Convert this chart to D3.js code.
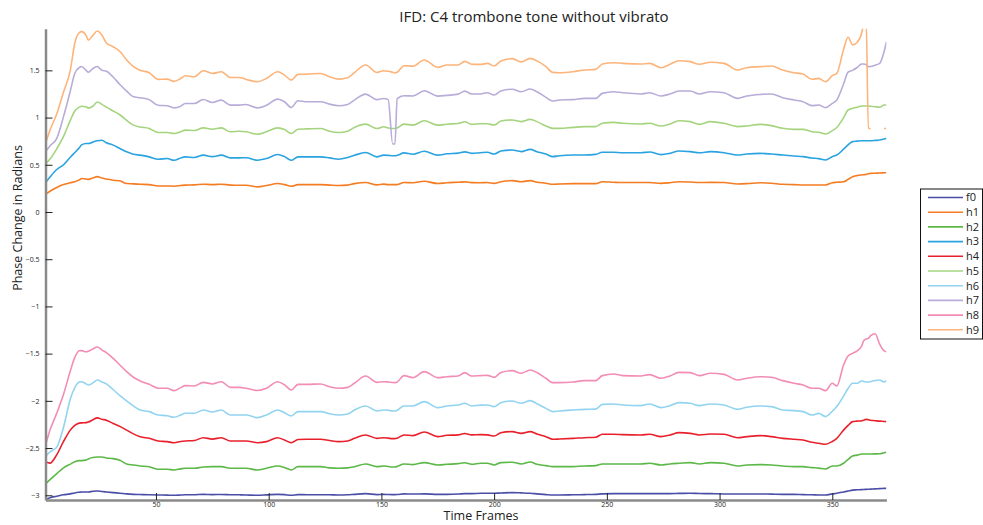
<!DOCTYPE html>
<html>
<head>
<meta charset="utf-8">
<script src="https://cdn.jsdelivr.net/npm/d3@7"></script>
<style>
  html, body { margin: 0; padding: 0; background: #fff; }
  svg { display: block; }
  text { font-family: "Open Sans", "Liberation Sans", sans-serif; fill: #222; }
</style>
</head>
<body>
<svg id="chart" width="983" height="525"></svg>
<script>
// Frame positions at which each harmonic's phase change is sampled
const frames = [1,3,6,9,12,14,16,17,19,20,22,24,26,28,31,34,37,40,43,47,51,55,58,61,63,67,71,75,79,83,87,90,95,99,104,107,110,113,117,123,127,131,135,138,143,148,151,153,155,156,157,160,164,169,175,179,184,187,
  190,194,197,200,203,208,212,216,219,223,226,229,235,240,245,248,253,257,265,269,274,278,282,287,291,296,302,308,312,318,323,328,333,337,341,344,347,350,352,355,357,359,361,363,364,365,366,367,369,371,373,374];

const f0 = [-3.045,-3.025,-3.01,-2.995,-2.985,-2.975,-2.968,-2.965,-2.965,-2.965,-2.958,-2.955,-2.96,-2.965,-2.972,-2.978,-2.985,-2.99,-2.992,-2.995,-2.997,-2.998,-3.0,-2.997,-2.995,-2.994,-2.99,-2.993,-2.992,-2.994,-2.995,-2.997,-3.0,-2.996,-2.99,-2.993,-3.0,-2.993,-2.994,-2.994,-2.995,-2.997,-2.995,-2.99,-2.983,-2.993,-2.99,-2.992,-2.993,-2.993,-2.992,-2.985,-2.987,-2.985,-2.99,-2.99,-2.987,-2.982,
  -2.982,-2.979,-2.979,-2.979,-2.976,-2.972,-2.975,-2.979,-2.985,-2.993,-2.997,-2.997,-2.995,-2.993,-2.99,-2.985,-2.983,-2.983,-2.983,-2.983,-2.983,-2.983,-2.98,-2.979,-2.981,-2.983,-2.986,-2.986,-2.986,-2.986,-2.988,-2.99,-2.99,-2.993,-2.995,-2.997,-2.997,-2.985,-2.979,-2.965,-2.955,-2.945,-2.942,-2.94,-2.938,-2.937,-2.936,-2.935,-2.932,-2.93,-2.927,-2.926];

const h1 = [0.19,0.22,0.26,0.29,0.31,0.32,0.34,0.355,0.35,0.345,0.36,0.375,0.36,0.35,0.336,0.33,0.301,0.298,0.294,0.29,0.276,0.276,0.273,0.28,0.285,0.287,0.294,0.29,0.294,0.285,0.283,0.283,0.266,0.28,0.301,0.29,0.273,0.29,0.29,0.29,0.285,0.28,0.285,0.30,0.312,0.287,0.295,0.29,0.29,0.29,0.29,0.312,0.31,0.326,0.301,0.31,0.315,0.319,
  0.311,0.31,0.312,0.303,0.32,0.332,0.321,0.332,0.315,0.305,0.293,0.297,0.30,0.30,0.30,0.321,0.315,0.312,0.312,0.312,0.303,0.31,0.321,0.317,0.312,0.314,0.312,0.297,0.30,0.31,0.305,0.293,0.29,0.286,0.286,0.286,0.286,0.31,0.315,0.32,0.345,0.374,0.385,0.392,0.395,0.398,0.405,0.409,0.41,0.413,0.415,0.416];

const h2 = [-2.88,-2.835,-2.77,-2.71,-2.67,-2.645,-2.633,-2.633,-2.628,-2.615,-2.60,-2.595,-2.595,-2.605,-2.612,-2.63,-2.668,-2.68,-2.69,-2.697,-2.725,-2.725,-2.732,-2.72,-2.714,-2.714,-2.70,-2.697,-2.697,-2.714,-2.714,-2.714,-2.732,-2.714,-2.69,-2.705,-2.732,-2.697,-2.697,-2.697,-2.71,-2.714,-2.71,-2.697,-2.668,-2.697,-2.69,-2.695,-2.70,-2.70,-2.695,-2.668,-2.675,-2.654,-2.679,-2.672,-2.665,-2.656,
  -2.672,-2.661,-2.661,-2.679,-2.654,-2.65,-2.668,-2.647,-2.672,-2.686,-2.697,-2.697,-2.697,-2.69,-2.686,-2.668,-2.668,-2.668,-2.668,-2.661,-2.679,-2.668,-2.661,-2.654,-2.668,-2.654,-2.661,-2.69,-2.679,-2.675,-2.679,-2.69,-2.697,-2.697,-2.707,-2.712,-2.721,-2.69,-2.69,-2.661,-2.62,-2.584,-2.575,-2.563,-2.563,-2.563,-2.563,-2.563,-2.562,-2.56,-2.55,-2.545];

const h3 = [0.31,0.37,0.45,0.50,0.58,0.63,0.68,0.71,0.725,0.725,0.74,0.755,0.76,0.733,0.708,0.672,0.637,0.611,0.602,0.584,0.559,0.566,0.548,0.572,0.584,0.577,0.602,0.586,0.602,0.573,0.573,0.575,0.548,0.566,0.609,0.587,0.548,0.584,0.584,0.584,0.573,0.559,0.577,0.60,0.63,0.584,0.602,0.60,0.596,0.596,0.60,0.626,0.612,0.644,0.602,0.616,0.623,0.637,
  0.621,0.628,0.632,0.614,0.646,0.656,0.639,0.663,0.639,0.614,0.586,0.596,0.603,0.603,0.61,0.632,0.632,0.628,0.628,0.635,0.607,0.621,0.646,0.639,0.628,0.639,0.628,0.603,0.614,0.621,0.614,0.603,0.593,0.586,0.572,0.565,0.551,0.586,0.603,0.665,0.71,0.745,0.75,0.755,0.755,0.755,0.755,0.755,0.758,0.762,0.772,0.78];

const h4 = [-2.645,-2.66,-2.57,-2.43,-2.31,-2.26,-2.236,-2.233,-2.231,-2.225,-2.20,-2.18,-2.195,-2.205,-2.24,-2.27,-2.31,-2.35,-2.38,-2.397,-2.425,-2.432,-2.443,-2.43,-2.425,-2.42,-2.39,-2.405,-2.39,-2.425,-2.425,-2.425,-2.443,-2.432,-2.39,-2.415,-2.443,-2.41,-2.407,-2.407,-2.42,-2.432,-2.425,-2.397,-2.361,-2.397,-2.39,-2.395,-2.40,-2.40,-2.395,-2.361,-2.368,-2.33,-2.379,-2.365,-2.36,-2.346,
  -2.36,-2.358,-2.36,-2.372,-2.337,-2.326,-2.344,-2.326,-2.351,-2.38,-2.407,-2.404,-2.397,-2.39,-2.386,-2.354,-2.354,-2.358,-2.361,-2.354,-2.379,-2.361,-2.337,-2.344,-2.361,-2.351,-2.354,-2.39,-2.379,-2.368,-2.379,-2.397,-2.407,-2.414,-2.439,-2.449,-2.46,-2.43,-2.397,-2.31,-2.26,-2.22,-2.215,-2.21,-2.205,-2.196,-2.2,-2.205,-2.21,-2.215,-2.218,-2.22];

const h5 = [0.51,0.56,0.67,0.80,0.97,1.07,1.11,1.12,1.115,1.10,1.12,1.165,1.14,1.11,1.07,1.03,0.97,0.92,0.90,0.885,0.842,0.842,0.831,0.85,0.867,0.863,0.891,0.877,0.891,0.849,0.855,0.849,0.824,0.849,0.891,0.874,0.831,0.877,0.88,0.884,0.856,0.842,0.856,0.895,0.93,0.884,0.902,0.89,0.884,0.884,0.89,0.93,0.92,0.966,0.92,0.93,0.937,0.955,
  0.928,0.935,0.935,0.921,0.963,0.974,0.957,0.981,0.957,0.91,0.886,0.886,0.896,0.904,0.904,0.939,0.949,0.94,0.932,0.939,0.91,0.932,0.967,0.957,0.928,0.957,0.939,0.904,0.91,0.928,0.915,0.886,0.875,0.875,0.85,0.845,0.826,0.861,0.895,1.0,1.08,1.098,1.11,1.122,1.122,1.122,1.122,1.12,1.115,1.11,1.133,1.133];

const h6 = [-2.59,-2.54,-2.49,-2.28,-1.98,-1.86,-1.80,-1.797,-1.82,-1.832,-1.81,-1.779,-1.80,-1.82,-1.88,-1.945,-2.00,-2.054,-2.097,-2.114,-2.15,-2.157,-2.174,-2.15,-2.132,-2.132,-2.097,-2.118,-2.097,-2.15,-2.15,-2.15,-2.178,-2.15,-2.097,-2.125,-2.16,-2.114,-2.114,-2.114,-2.137,-2.15,-2.14,-2.097,-2.054,-2.107,-2.097,-2.10,-2.107,-2.107,-2.10,-2.054,-2.054,-2.008,-2.072,-2.054,-2.044,-2.025,
  -2.054,-2.045,-2.044,-2.061,-2.019,-2.001,-2.026,-1.998,-2.03,-2.08,-2.114,-2.107,-2.097,-2.09,-2.088,-2.037,-2.033,-2.044,-2.051,-2.033,-2.072,-2.051,-2.019,-2.026,-2.051,-2.033,-2.044,-2.09,-2.068,-2.054,-2.061,-2.097,-2.104,-2.114,-2.15,-2.133,-2.167,-2.11,-2.061,-1.95,-1.87,-1.814,-1.814,-1.79,-1.795,-1.80,-1.80,-1.795,-1.785,-1.779,-1.80,-1.786];

const h7 = [0.64,0.70,0.78,1.01,1.28,1.47,1.53,1.54,1.50,1.48,1.52,1.54,1.50,1.49,1.43,1.35,1.28,1.22,1.21,1.19,1.13,1.125,1.103,1.12,1.149,1.149,1.192,1.16,1.185,1.132,1.132,1.138,1.103,1.13,1.195,1.168,1.107,1.178,1.167,1.167,1.142,1.125,1.139,1.185,1.248,1.19,1.202,1.19,0.72,0.72,1.20,1.231,1.228,1.284,1.227,1.235,1.248,1.28,
  1.25,1.25,1.263,1.239,1.281,1.30,1.274,1.302,1.274,1.214,1.175,1.186,1.19,1.203,1.203,1.256,1.274,1.263,1.25,1.263,1.228,1.25,1.281,1.281,1.25,1.274,1.263,1.203,1.228,1.245,1.25,1.21,1.186,1.168,1.126,1.133,1.105,1.15,1.186,1.355,1.48,1.50,1.53,1.567,1.567,1.56,1.539,1.54,1.555,1.574,1.70,1.80];

const h8 = [-2.47,-2.31,-2.13,-1.93,-1.685,-1.54,-1.47,-1.468,-1.48,-1.475,-1.45,-1.43,-1.46,-1.49,-1.55,-1.62,-1.69,-1.75,-1.79,-1.825,-1.867,-1.867,-1.892,-1.86,-1.839,-1.842,-1.804,-1.821,-1.797,-1.857,-1.857,-1.867,-1.89,-1.867,-1.797,-1.83,-1.885,-1.825,-1.825,-1.821,-1.85,-1.867,-1.857,-1.814,-1.737,-1.804,-1.797,-1.80,-1.805,-1.807,-1.80,-1.733,-1.754,-1.691,-1.754,-1.744,-1.737,-1.701,
  -1.737,-1.733,-1.73,-1.751,-1.701,-1.68,-1.708,-1.673,-1.70,-1.761,-1.807,-1.807,-1.80,-1.786,-1.786,-1.733,-1.715,-1.733,-1.737,-1.722,-1.761,-1.737,-1.698,-1.701,-1.733,-1.708,-1.72,-1.779,-1.761,-1.744,-1.75,-1.786,-1.814,-1.832,-1.867,-1.867,-1.892,-1.814,-1.842,-1.62,-1.525,-1.497,-1.47,-1.42,-1.36,-1.345,-1.338,-1.31,-1.29,-1.40,-1.47,-1.479];

// h9 runs past the top of the axis near the end, then wraps; missing frames are null
const h9 = [0.725,0.867,1.04,1.27,1.50,1.79,1.90,1.91,1.87,1.82,1.87,1.916,1.874,1.79,1.75,1.70,1.61,1.54,1.50,1.475,1.404,1.407,1.383,1.414,1.443,1.432,1.496,1.467,1.485,1.425,1.425,1.404,1.379,1.414,1.485,1.45,1.397,1.457,1.46,1.467,1.432,1.407,1.421,1.475,1.556,1.478,1.496,1.49,1.48,1.475,1.48,1.549,1.545,1.609,1.531,1.556,1.556,1.595,
  1.565,1.563,1.574,1.546,1.599,1.624,1.59,1.627,1.60,1.539,1.479,1.475,1.486,1.503,1.51,1.567,1.581,1.574,1.567,1.574,1.528,1.564,1.602,1.592,1.564,1.585,1.574,1.503,1.528,1.539,1.546,1.503,1.475,1.461,1.405,1.415,1.38,1.444,1.468,1.72,1.85,1.77,1.795,1.892,2.0,2.05,0.884,0.884,null,null,0.884,0.884];

const seriesNames = ["f0","h1","h2","h3","h4","h5","h6","h7","h8","h9"];
const seriesValues = [f0,h1,h2,h3,h4,h5,h6,h7,h8,h9];
const seriesColors = ["#4a4ea6","#f47c22","#5cb848","#2aa3e0","#e8202c","#a5d47e","#92d4f0","#b8acd8","#f28db5","#fdb47a"];

const xTicks = [50,100,150,200,250,300,350];
const yTicks = [-3,-2.5,-2,-1.5,-1,-0.5,0,0.5,1,1.5];

const titleText = "IFD: C4 trombone tone without vibrato";
const xLabel = "Time Frames";
const yLabel = "Phase Change in Radians";

const svg = d3.select("#chart");
const plot = { left: 45.5, right: 886.4, top: 28.8, bottom: 500 };

const x = d3.scaleLinear().domain([1, 374]).range([plot.left, plot.right]);
const y = d3.scaleLinear().domain([-3.05, 1.94]).range([plot.bottom, plot.top]);

svg.append("defs").append("clipPath").attr("id", "plotClip")
  .append("rect")
  .attr("x", plot.left).attr("y", plot.top)
  .attr("width", plot.right - plot.left).attr("height", plot.bottom - plot.top);

const line = d3.line()
  .defined(d => d[1] !== null)
  .x(d => x(d[0]))
  .y(d => y(d[1]))
  .curve(d3.curveMonotoneX);

const lines = svg.append("g").attr("clip-path", "url(#plotClip)");
seriesValues.forEach((vals, i) => {
  lines.append("path")
    .datum(frames.map((f, j) => [f, vals[j]]))
    .attr("fill", "none")
    .attr("stroke", seriesColors[i])
    .attr("stroke-width", 1.6)
    .attr("stroke-linejoin", "round")
    .attr("d", line);
});

// Axes: MATLAB-style, ticks pointing into the plot
const fmt = d3.format("");
const yAxis = svg.append("g")
  .attr("transform", `translate(${plot.left},0)`)
  .call(d3.axisLeft(y).tickValues(yTicks).tickSizeInner(-7).tickSizeOuter(0).tickPadding(6).tickFormat(fmt));
const xAxis = svg.append("g")
  .attr("transform", `translate(0,${plot.bottom})`)
  .call(d3.axisBottom(x).tickValues(xTicks).tickSizeInner(-7).tickSizeOuter(0).tickPadding(2).tickFormat(fmt));

[yAxis, xAxis].forEach(a => {
  a.select(".domain").attr("stroke", "#8a8a8a").attr("stroke-width", 2.5);
  a.selectAll(".tick line").attr("stroke", "#222").attr("stroke-width", 1);
  a.selectAll(".tick text").attr("font-size", 7).attr("fill", "#333")
    .style("font-family", "'Open Sans', 'Liberation Sans', sans-serif");
});

svg.append("text")
  .attr("x", 534).attr("y", 21.5)
  .attr("text-anchor", "middle")
  .attr("font-size", 15)
  .text(titleText);

svg.append("text")
  .attr("x", 481).attr("y", 520)
  .attr("text-anchor", "middle")
  .attr("font-size", 12.5)
  .text(xLabel);

svg.append("text")
  .attr("transform", "translate(22,218) rotate(-90)")
  .attr("text-anchor", "middle")
  .attr("font-size", 12.5)
  .text(yLabel);

// Legend
const legend = svg.append("g");
legend.append("rect")
  .attr("x", 920.5).attr("y", 189).attr("width", 62).attr("height", 150)
  .attr("fill", "#fff").attr("stroke", "#111").attr("stroke-width", 1);
seriesNames.forEach((name, i) => {
  const ly = 197.5 + i * 14.7;
  legend.append("line")
    .attr("x1", 928).attr("x2", 963).attr("y1", ly).attr("y2", ly)
    .attr("stroke", seriesColors[i]).attr("stroke-width", 1.6);
  legend.append("text")
    .attr("x", 966).attr("y", ly + 3.8)
    .attr("font-size", 11)
    .text(name);
});
</script>
</body>
</html>
